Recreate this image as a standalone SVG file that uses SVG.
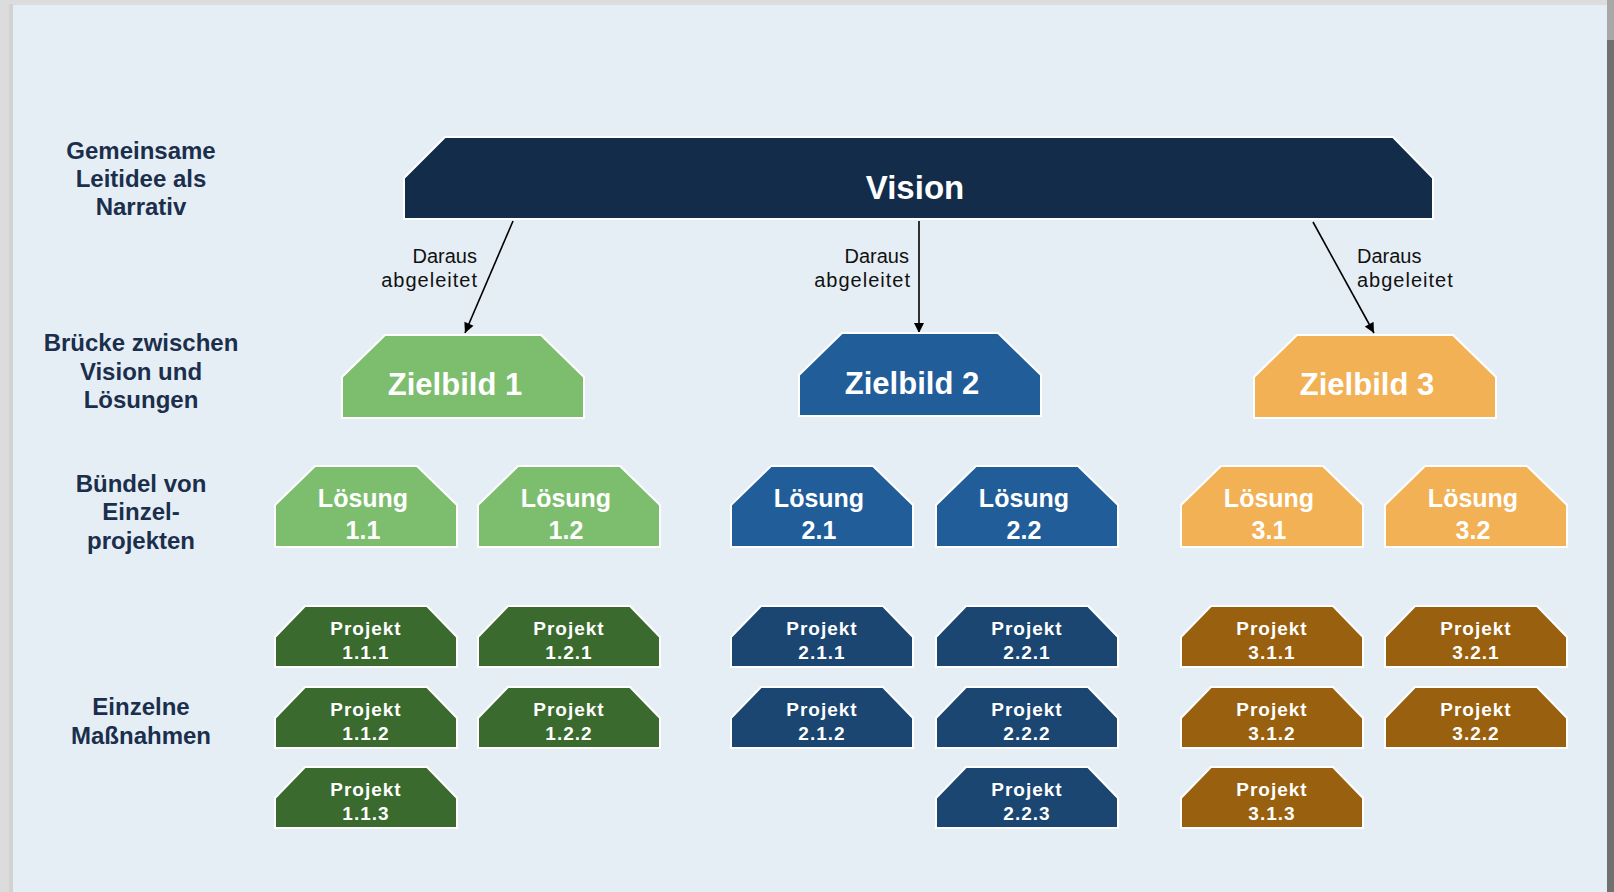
<svg xmlns="http://www.w3.org/2000/svg" width="1614" height="892" viewBox="0 0 1614 892">
<defs>
<marker id="ah" viewBox="0 0 10 10" refX="10" refY="5" markerWidth="11" markerHeight="10" markerUnits="userSpaceOnUse" orient="auto">
<path d="M0,0 L10,5 L0,10 Z" fill="#000"/>
</marker>
</defs>
<style>
.lbl{font-family:"Liberation Sans",Arial,sans-serif;font-weight:bold;font-size:24px;fill:#1b2f4c;text-anchor:middle}
.edge-lbl{font-family:"Liberation Sans",Arial,sans-serif;font-size:20px;fill:#111}
.shape{stroke:#ffffff;stroke-width:2}
.vis{fill:#122c4a}
.g1{fill:#7dbd6e}.g1d{fill:#3a6a2e}
.b2{fill:#215d99}.b2d{fill:#1b4671}
.o3{fill:#f2b155}.o3d{fill:#98600f}
.t{font-family:"Liberation Sans",Arial,sans-serif;font-weight:bold;fill:#ffffff;text-anchor:middle}
.tv{font-size:33px}
.tz{font-size:31px}
.tl{font-size:25px}
.tp{font-size:19px;letter-spacing:1px}
.conn{stroke:#000;stroke-width:1.6;fill:none}
</style>
<!-- frame -->
<rect x="0" y="0" width="1614" height="892" fill="#dcdcdc"/>
<rect x="1607" y="0" width="7" height="892" fill="#707070"/>
<rect x="1607" y="0" width="7" height="40" fill="#a8a8a8"/>
<rect x="9" y="4" width="4" height="888" fill="#d2d2d2"/>
<rect x="13" y="5" width="1594" height="887" fill="#e6eef5"/>

<!-- side labels -->
<g id="label-vision-level">
<text class="lbl" x="141" y="159">Gemeinsame</text>
<text class="lbl" x="141" y="187">Leitidee als</text>
<text class="lbl" x="141" y="215">Narrativ</text>
</g>
<g id="label-zielbild-level">
<text class="lbl" x="141" y="351">Brücke zwischen</text>
<text class="lbl" x="141" y="380">Vision und</text>
<text class="lbl" x="141" y="408">Lösungen</text>
</g>
<g id="label-loesung-level">
<text class="lbl" x="141" y="492">Bündel von</text>
<text class="lbl" x="141" y="520">Einzel-</text>
<text class="lbl" x="141" y="549">projekten</text>
</g>
<g id="label-projekt-level">
<text class="lbl" x="141" y="715">Einzelne</text>
<text class="lbl" x="141" y="744">Maßnahmen</text>
</g>

<!-- connectors -->
<g id="connectors">
<line class="conn" x1="513" y1="221" x2="465" y2="333" marker-end="url(#ah)"/>
<line class="conn" x1="919" y1="221" x2="919" y2="333" marker-end="url(#ah)"/>
<line class="conn" x1="1313" y1="222" x2="1374" y2="333" marker-end="url(#ah)"/>
<text class="edge-lbl" x="477" y="263" text-anchor="end">Daraus</text>
<text class="edge-lbl" x="478" y="287" text-anchor="end" letter-spacing="1">abgeleitet</text>
<text class="edge-lbl" x="909" y="263" text-anchor="end">Daraus</text>
<text class="edge-lbl" x="911" y="287" text-anchor="end" letter-spacing="1">abgeleitet</text>
<text class="edge-lbl" x="1357" y="263">Daraus</text>
<text class="edge-lbl" x="1357" y="287" letter-spacing="1">abgeleitet</text>
</g>

<!-- vision -->
<g id="vision">
<path class="shape vis" d="M404,178 L445,137 L1393,137 L1433,178 L1433,219 L404,219 Z"/>
<text class="t tv" x="915" y="199">Vision</text>
</g>

<!-- zielbilder -->
<g id="zielbild-1" transform="translate(342,335)">
<path class="shape g1" d="M0,42 L43,0 L199,0 L242,42 L242,83 L0,83 Z"/>
<text class="t tz" x="113" y="60">Zielbild 1</text>
</g>
<g id="zielbild-2" transform="translate(799,333)">
<path class="shape b2" d="M0,42 L43,0 L199,0 L242,42 L242,83 L0,83 Z"/>
<text class="t tz" x="113" y="61">Zielbild 2</text>
</g>
<g id="zielbild-3" transform="translate(1254,335)">
<path class="shape o3" d="M0,42 L43,0 L199,0 L242,42 L242,83 L0,83 Z"/>
<text class="t tz" x="113" y="60">Zielbild 3</text>
</g>

<!-- loesungen -->
<g id="loesung-1-1" transform="translate(275,466)">
<path class="shape g1" d="M0,39 L40,0 L142,0 L182,39 L182,81 L0,81 Z"/>
<text class="t tl" x="88" y="41">Lösung</text><text class="t tl" x="88" y="73">1.1</text>
</g>
<g id="loesung-1-2" transform="translate(478,466)">
<path class="shape g1" d="M0,39 L40,0 L142,0 L182,39 L182,81 L0,81 Z"/>
<text class="t tl" x="88" y="41">Lösung</text><text class="t tl" x="88" y="73">1.2</text>
</g>
<g id="loesung-2-1" transform="translate(731,466)">
<path class="shape b2" d="M0,39 L40,0 L142,0 L182,39 L182,81 L0,81 Z"/>
<text class="t tl" x="88" y="41">Lösung</text><text class="t tl" x="88" y="73">2.1</text>
</g>
<g id="loesung-2-2" transform="translate(936,466)">
<path class="shape b2" d="M0,39 L40,0 L142,0 L182,39 L182,81 L0,81 Z"/>
<text class="t tl" x="88" y="41">Lösung</text><text class="t tl" x="88" y="73">2.2</text>
</g>
<g id="loesung-3-1" transform="translate(1181,466)">
<path class="shape o3" d="M0,39 L40,0 L142,0 L182,39 L182,81 L0,81 Z"/>
<text class="t tl" x="88" y="41">Lösung</text><text class="t tl" x="88" y="73">3.1</text>
</g>
<g id="loesung-3-2" transform="translate(1385,466)">
<path class="shape o3" d="M0,39 L40,0 L142,0 L182,39 L182,81 L0,81 Z"/>
<text class="t tl" x="88" y="41">Lösung</text><text class="t tl" x="88" y="73">3.2</text>
</g>

<!-- projekte -->
<g id="projekt-1-1-1" transform="translate(275,606)">
<path class="shape g1d" d="M0,31 L30,0 L152,0 L182,31 L182,61 L0,61 Z"/>
<text class="t tp" x="91" y="29">Projekt</text><text class="t tp" x="91" y="53">1.1.1</text>
</g>
<g id="projekt-1-1-2" transform="translate(275,687)">
<path class="shape g1d" d="M0,31 L30,0 L152,0 L182,31 L182,61 L0,61 Z"/>
<text class="t tp" x="91" y="29">Projekt</text><text class="t tp" x="91" y="53">1.1.2</text>
</g>
<g id="projekt-1-1-3" transform="translate(275,767)">
<path class="shape g1d" d="M0,31 L30,0 L152,0 L182,31 L182,61 L0,61 Z"/>
<text class="t tp" x="91" y="29">Projekt</text><text class="t tp" x="91" y="53">1.1.3</text>
</g>
<g id="projekt-1-2-1" transform="translate(478,606)">
<path class="shape g1d" d="M0,31 L30,0 L152,0 L182,31 L182,61 L0,61 Z"/>
<text class="t tp" x="91" y="29">Projekt</text><text class="t tp" x="91" y="53">1.2.1</text>
</g>
<g id="projekt-1-2-2" transform="translate(478,687)">
<path class="shape g1d" d="M0,31 L30,0 L152,0 L182,31 L182,61 L0,61 Z"/>
<text class="t tp" x="91" y="29">Projekt</text><text class="t tp" x="91" y="53">1.2.2</text>
</g>
<g id="projekt-2-1-1" transform="translate(731,606)">
<path class="shape b2d" d="M0,31 L30,0 L152,0 L182,31 L182,61 L0,61 Z"/>
<text class="t tp" x="91" y="29">Projekt</text><text class="t tp" x="91" y="53">2.1.1</text>
</g>
<g id="projekt-2-1-2" transform="translate(731,687)">
<path class="shape b2d" d="M0,31 L30,0 L152,0 L182,31 L182,61 L0,61 Z"/>
<text class="t tp" x="91" y="29">Projekt</text><text class="t tp" x="91" y="53">2.1.2</text>
</g>
<g id="projekt-2-2-1" transform="translate(936,606)">
<path class="shape b2d" d="M0,31 L30,0 L152,0 L182,31 L182,61 L0,61 Z"/>
<text class="t tp" x="91" y="29">Projekt</text><text class="t tp" x="91" y="53">2.2.1</text>
</g>
<g id="projekt-2-2-2" transform="translate(936,687)">
<path class="shape b2d" d="M0,31 L30,0 L152,0 L182,31 L182,61 L0,61 Z"/>
<text class="t tp" x="91" y="29">Projekt</text><text class="t tp" x="91" y="53">2.2.2</text>
</g>
<g id="projekt-2-2-3" transform="translate(936,767)">
<path class="shape b2d" d="M0,31 L30,0 L152,0 L182,31 L182,61 L0,61 Z"/>
<text class="t tp" x="91" y="29">Projekt</text><text class="t tp" x="91" y="53">2.2.3</text>
</g>
<g id="projekt-3-1-1" transform="translate(1181,606)">
<path class="shape o3d" d="M0,31 L30,0 L152,0 L182,31 L182,61 L0,61 Z"/>
<text class="t tp" x="91" y="29">Projekt</text><text class="t tp" x="91" y="53">3.1.1</text>
</g>
<g id="projekt-3-1-2" transform="translate(1181,687)">
<path class="shape o3d" d="M0,31 L30,0 L152,0 L182,31 L182,61 L0,61 Z"/>
<text class="t tp" x="91" y="29">Projekt</text><text class="t tp" x="91" y="53">3.1.2</text>
</g>
<g id="projekt-3-1-3" transform="translate(1181,767)">
<path class="shape o3d" d="M0,31 L30,0 L152,0 L182,31 L182,61 L0,61 Z"/>
<text class="t tp" x="91" y="29">Projekt</text><text class="t tp" x="91" y="53">3.1.3</text>
</g>
<g id="projekt-3-2-1" transform="translate(1385,606)">
<path class="shape o3d" d="M0,31 L30,0 L152,0 L182,31 L182,61 L0,61 Z"/>
<text class="t tp" x="91" y="29">Projekt</text><text class="t tp" x="91" y="53">3.2.1</text>
</g>
<g id="projekt-3-2-2" transform="translate(1385,687)">
<path class="shape o3d" d="M0,31 L30,0 L152,0 L182,31 L182,61 L0,61 Z"/>
<text class="t tp" x="91" y="29">Projekt</text><text class="t tp" x="91" y="53">3.2.2</text>
</g>
</svg>
